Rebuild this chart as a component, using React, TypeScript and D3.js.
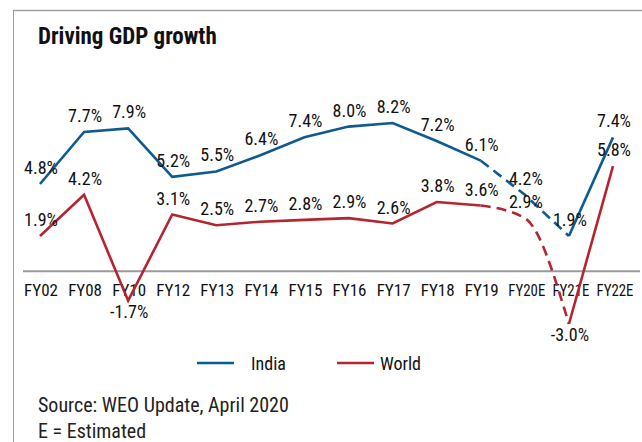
import React from "react";
import * as d3 from "d3";

const categories = ["FY02","FY08","FY10","FY12","FY13","FY14","FY15","FY16","FY17","FY18","FY19","FY20E","FY21E","FY22E"];
const india = [4.8, 7.7, 7.9, 5.2, 5.5, 6.4, 7.4, 8.0, 8.2, 7.2, 6.1, 4.2, 1.9, 7.4];
const world = [1.9, 4.2, -1.7, 3.1, 2.5, 2.7, 2.8, 2.9, 2.6, 3.8, 3.6, 2.9, -3.0, 5.8];
// segment i -> i+1 is an estimate (dashed)
const dashedSegment = [false,false,false,false,false,false,false,false,false,false,true,true,false];
const seriesNames = ["India", "World"];

const W = 642, H = 442;
const FONT = "'Liberation Sans Narrow', 'Arial Narrow', 'Roboto Condensed', sans-serif";
const BLUE = "#0f5a8f";
const RED = "#b5252f";

export default function App() {
  const x = d3.scalePoint<string>().domain(categories).range([40, 613]);
  const y = d3.scaleLinear().domain([-3, 8.2]).range([324, 123]);

  const buildRuns = (vals: number[]) => {
    const runs: { dashed: boolean; pts: [number, number][] }[] = [];
    for (let i = 0; i < vals.length - 1; i++) {
      const d = dashedSegment[i];
      const p0: [number, number] = [x(categories[i])!, y(vals[i])];
      const p1: [number, number] = [x(categories[i + 1])!, y(vals[i + 1])];
      const last = runs[runs.length - 1];
      if (last && last.dashed === d) last.pts.push(p1);
      else runs.push({ dashed: d, pts: [p0, p1] });
    }
    return runs;
  };

  const straight = d3.line<[number, number]>();
  const smooth = d3.line<[number, number]>().curve(d3.curveMonotoneX);

  const series = [
    { name: seriesNames[0], vals: india, color: BLUE, smoothDash: false },
    { name: seriesNames[1], vals: world, color: RED, smoothDash: true },
  ];

  return (
    <svg width={W} height={H} style={{ position: "absolute", left: 0, top: 0, background: "#fff" }}>
      <rect x={0} y={0} width={W} height={H} fill="#fff" />
      {/* frame */}
      <line x1={13} y1={10.5} x2={W} y2={10.5} stroke="#a0a0a0" strokeWidth={1.5} />
      <line x1={13.5} y1={10} x2={13.5} y2={H} stroke="#a0a0a0" strokeWidth={1} />
      <text x={38} y={44} fontFamily={FONT} fontWeight="bold" fontSize={23} fill="#111">Driving GDP growth</text>

      {/* axis */}
      <line x1={23} x2={640} y1={y(0) + 1} y2={y(0) + 1} stroke="#9a9a9e" strokeWidth={2} />
      {categories.map((c) => (
        <text
          key={c}
          x={x(c)! + (c.endsWith("E") ? 2 : 1)}
          y={y(0) + 26}
          textAnchor="middle"
          fontFamily={FONT}
          fontSize={17}
          fill="#111"
          textLength={c.endsWith("E") ? 37 : undefined}
          lengthAdjust="spacingAndGlyphs"
        >
          {c}
        </text>
      ))}

      {series.map((s) => (
        <g key={s.name}>
          {buildRuns(s.vals).map((r, i) => (
            <path
              key={i}
              d={(r.dashed && s.smoothDash ? smooth : straight)(r.pts) || ""}
              fill="none"
              stroke={s.color}
              strokeWidth={2.6}
              strokeDasharray={r.dashed ? "10,6" : undefined}
            />
          ))}
        </g>
      ))}

      {series.map((s) => (
        <g key={s.name + "-labels"}>
          {s.vals.map((v, i) => (
            <text
              key={i}
              x={x(categories[i])! + 1}
              y={v < 0 ? y(v) + 17 : y(v) - 10}
              textAnchor="middle"
              fontFamily={FONT}
              fontSize={18}
              fill="#111"
            >
              {v.toFixed(1) + "%"}
            </text>
          ))}
        </g>
      ))}

      {/* legend */}
      <line x1={197} x2={234} y1={363} y2={363} stroke={BLUE} strokeWidth={2.6} />
      <text x={251} y={370} fontFamily={FONT} fontSize={18} fill="#111">{seriesNames[0]}</text>
      <line x1={337} x2={374} y1={363} y2={363} stroke={RED} strokeWidth={2.6} />
      <text x={380} y={370} fontFamily={FONT} fontSize={18} fill="#111">{seriesNames[1]}</text>

      <text x={38} y={412} fontFamily={FONT} fontSize={20} fill="#222">Source: WEO Update, April 2020</text>
      <text x={38} y={438} fontFamily={FONT} fontSize={20} fill="#222">E = Estimated</text>
    </svg>
  );
}
